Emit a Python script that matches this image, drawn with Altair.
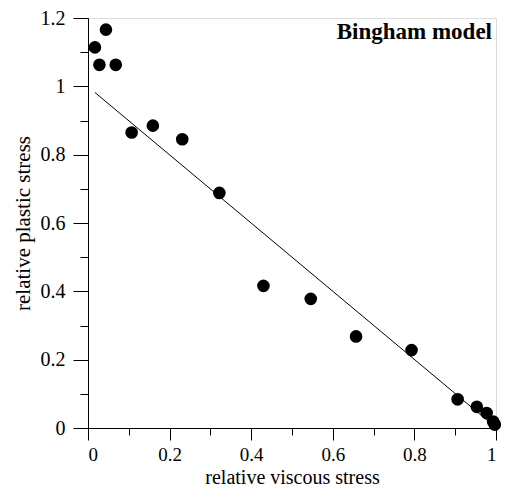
import altair as alt
import pandas as pd

# Measured points (relative viscous stress, relative plastic stress)
visc = [0.017, 0.028, 0.044, 0.068, 0.107, 0.159, 0.231, 0.322, 0.430, 0.546,
        0.657, 0.793, 0.906, 0.953, 0.977, 0.993, 0.997]
plast = [1.114, 1.063, 1.166, 1.063, 0.865, 0.885, 0.845, 0.688, 0.416, 0.378,
         0.268, 0.228, 0.084, 0.062, 0.044, 0.019, 0.010]

# Fitted line end points
fit_x = [0.017, 0.997]
fit_y = [0.982, 0.004]

x_major = [0, 0.2, 0.4, 0.6, 0.8, 1.0]
x_minor = [0.1, 0.3, 0.5, 0.7, 0.9]
y_major = [0, 0.2, 0.4, 0.6, 0.8, 1.0, 1.2]
y_minor = [0.1, 0.3, 0.5, 0.7, 0.9, 1.1]

pts = pd.DataFrame({"x": visc, "y": plast})
fit = pd.DataFrame({"x": fit_x, "y": fit_y})

FONT = "Liberation Serif"
common = dict(grid=False, domainColor="black", tickColor="black", labelColor="black")

x_axis = alt.Axis(
    values=x_major, format=".1~f", orient="bottom", tickSize=12,
    labelFont=FONT, labelFontSize=19, labelPadding=5,
    title="relative viscous stress", titleFont=FONT, titleFontSize=20,
    titleFontWeight="normal", titleColor="black",
    titleBaseline="alphabetic", titleY=55, **common,
)
y_axis = alt.Axis(
    values=y_major, format=".1~f", orient="left", tickSize=15,
    labelFont=FONT, labelFontSize=20, labelPadding=8,
    title="relative plastic stress", titleFont=FONT, titleFontSize=21,
    titleFontWeight="normal", titleColor="black",
    titleBaseline="alphabetic", titleX=-59, **common,
)
x_axis_minor = alt.Axis(values=x_minor, orient="bottom", tickSize=7, labels=False,
                        domain=False, title=None, grid=False, tickColor="black")
y_axis_minor = alt.Axis(values=y_minor, orient="left", tickSize=8, labels=False,
                        domain=False, title=None, grid=False, tickColor="black")

xs = alt.Scale(domain=[0, 1], nice=False, zero=False)
ys = alt.Scale(domain=[0, 1.2], nice=False, zero=False)

line = alt.Chart(fit).mark_line(color="black", strokeWidth=1).encode(
    x=alt.X("x:Q", scale=xs, axis=x_axis_minor),
    y=alt.Y("y:Q", scale=ys, axis=y_axis_minor),
)
points = alt.Chart(pts).mark_circle(size=160, color="black", opacity=1).encode(
    x=alt.X("x:Q", scale=xs, axis=x_axis),
    y=alt.Y("y:Q", scale=ys, axis=y_axis),
)

chart = alt.layer(line, points).resolve_axis(x="independent", y="independent").properties(
    width=408, height=410,
    title=alt.TitleParams(
        "Bingham model", anchor="end", frame="group", orient="top",
        font=FONT, fontSize=23, fontWeight="bold", color="black",
        baseline="alphabetic", offset=0, dx=-4, dy=54,
    ),
    autosize=alt.AutoSizeParams(type="none"),
    padding={"left": 80, "top": 10, "right": 5, "bottom": 60},
).configure_view(stroke=None).configure(background="white")

chart.save("out.html", embed_options={"renderer": "svg", "actions": False})
